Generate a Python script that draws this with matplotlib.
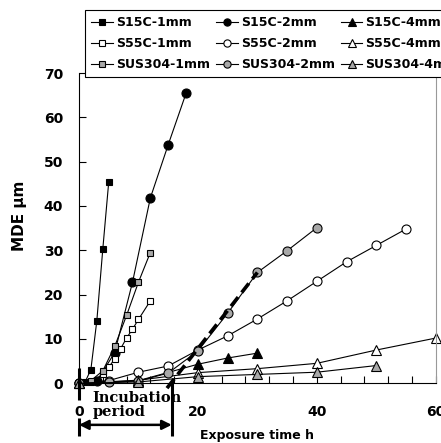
import matplotlib
matplotlib.use("Agg")
import matplotlib.pyplot as plt
from matplotlib.ticker import MultipleLocator
from matplotlib.transforms import blended_transform_factory

plt.rcParams['font.family'] = ['DejaVu Sans']

# Mean depth of erosion (MDE, µm) versus exposure time (h)
s15c_1_t = [0, 1, 2, 3, 4, 5]
s15c_1_mde = [0, 0.2, 3.1, 14.1, 30.2, 45.4]
s15c_2_t = [0, 3, 6, 9, 12, 15, 18]
s15c_2_mde = [0, 0.5, 6.9, 22.8, 41.8, 53.8, 65.4]
s15c_4_t = [0, 10, 20, 25, 30]
s15c_4_mde = [0, 0.6, 4.3, 5.7, 6.8]

s55c_1_t = [0, 2, 4, 5, 6, 7, 8, 9, 10, 12]
s55c_1_mde = [0, 0.3, 2.0, 3.6, 5.5, 7.8, 10.2, 12.2, 14.4, 18.6]
s55c_2_t = [0, 5, 10, 15, 20, 25, 30, 35, 40, 45, 50, 55]
s55c_2_mde = [0, 0.6, 2.5, 3.9, 7.5, 10.7, 14.5, 18.6, 23.0, 27.4, 31.1, 34.8]
s55c_4_t = [0, 10, 20, 30, 40, 50, 60]
s55c_4_mde = [0, 0.7, 2.4, 3.3, 4.5, 7.5, 10.2]

sus_1_t = [0, 2, 4, 6, 8, 10, 12]
sus_1_mde = [0, 0.6, 2.8, 8.3, 15.3, 22.8, 29.5]
sus_2_t = [0, 5, 10, 15, 20, 25, 30, 35, 40]
sus_2_mde = [0, 0.3, 0.5, 2.3, 7.3, 15.8, 25.0, 29.9, 35.1]
sus_4_t = [0, 10, 20, 30, 40, 50]
sus_4_mde = [0, 0.3, 1.5, 2.0, 2.5, 4.0]

# Extrapolated steady-state line of SUS304-2mm and incubation period end
fit_t = [14.8, 30]
fit_mde = [-1.1, 25.0]
incubation_end = 15.6

GRAY = '#a8a8a8'

fig = plt.figure(figsize=(4.41, 4.43), dpi=100)
ax = fig.add_axes([0.1791, 0.1348, 0.8090, 0.7004])

series = [
    (s15c_1_t, s15c_1_mde, 's', 'black', 5.0, 'S15C-1mm'),
    (s15c_2_t, s15c_2_mde, 'o', 'black', 6.5, 'S15C-2mm'),
    (s15c_4_t, s15c_4_mde, '^', 'black', 6.5, 'S15C-4mm'),
    (s55c_1_t, s55c_1_mde, 's', 'white', 5.0, 'S55C-1mm'),
    (s55c_2_t, s55c_2_mde, 'o', 'white', 6.5, 'S55C-2mm'),
    (s55c_4_t, s55c_4_mde, '^', 'white', 6.5, 'S55C-4mm'),
    (sus_1_t, sus_1_mde, 's', GRAY, 5.0, 'SUS304-1mm'),
    (sus_2_t, sus_2_mde, 'o', GRAY, 6.5, 'SUS304-2mm'),
    (sus_4_t, sus_4_mde, '^', GRAY, 6.5, 'SUS304-4mm'),
]

handles = {}
for t, m, mk, fc, ms, lab in series:
    h, = ax.plot(t, m, color='black', lw=0.8, marker=mk, ms=ms,
                 mfc=fc, mec='black', mew=0.8, label=lab, clip_on=False)
    handles[lab] = h

ax.plot(fit_t, fit_mde, color='black', lw=2.6, dashes=(3.2, 1.6),
        clip_on=False, zorder=4)

ax.set_xlim(0, 60)
ax.set_ylim(0, 70)
ax.xaxis.set_major_locator(MultipleLocator(20))
ax.xaxis.set_minor_locator(MultipleLocator(4))
ax.yaxis.set_major_locator(MultipleLocator(10))
ax.tick_params(axis='both', which='both', direction='in', top=False, right=False,
               width=0.8, labelsize=10)
ax.tick_params(axis='x', which='major', length=5, pad=15.5)
ax.tick_params(axis='x', which='minor', length=5)
ax.tick_params(axis='y', which='major', length=5, pad=11.5)
for lbl in ax.get_xticklabels() + ax.get_yticklabels():
    lbl.set_fontweight('bold')
ax.spines['top'].set_visible(False)
ax.spines['right'].set_color('#999999')
ax.spines['left'].set_linewidth(0.8)
ax.spines['bottom'].set_linewidth(0.8)

fig.text(0.045, 0.512, 'MDE μm', rotation=90, ha='center', va='center',
         fontsize=11, fontweight='bold')
fig.text(0.583, 0.018, 'Exposure time h', ha='center', va='center',
         fontsize=9, fontweight='bold')

# Incubation period annotation below the axis
tr = blended_transform_factory(ax.transData, ax.transAxes)
for y0, y1 in [(0.049, -0.054), (-0.112, -0.170)]:
    ax.plot([0, 0], [y0, y1], transform=tr, color='black', lw=2.2,
            clip_on=False, solid_capstyle='butt')
ax.plot([incubation_end, incubation_end], [0.007, -0.170], transform=tr,
        color='black', lw=2.2, clip_on=False, solid_capstyle='butt')
ax.annotate('', xy=(0, -0.134), xytext=(incubation_end, -0.134),
            xycoords=tr, textcoords=tr,
            arrowprops=dict(arrowstyle='<|-|>', color='black', lw=1.8,
                            mutation_scale=14, shrinkA=0, shrinkB=0))
ax.text(2.3, -0.046, 'Incubation', transform=tr, ha='left', va='center',
        fontsize=10.5, fontweight='bold', family='DejaVu Serif')
ax.text(2.3, -0.094, 'period', transform=tr, ha='left', va='center',
        fontsize=10.5, fontweight='bold', family='DejaVu Serif')

order = ['S15C-1mm', 'S55C-1mm', 'SUS304-1mm',
         'S15C-2mm', 'S55C-2mm', 'SUS304-2mm',
         'S15C-4mm', 'S55C-4mm', 'SUS304-4mm']
leg = fig.legend([handles[k] for k in order], order, ncol=3,
                 loc='upper left', bbox_to_anchor=(0.193, 0.978),
                 prop={'weight': 'bold', 'size': 9}, frameon=True,
                 fancybox=False, edgecolor='black', framealpha=1,
                 handlelength=1.75, handletextpad=0.25, columnspacing=0.45,
                 labelspacing=0.65, borderpad=0.5, markerscale=0.8,
                 borderaxespad=0)
leg.get_frame().set_linewidth(0.8)

fig.savefig('out.png', dpi=100)
